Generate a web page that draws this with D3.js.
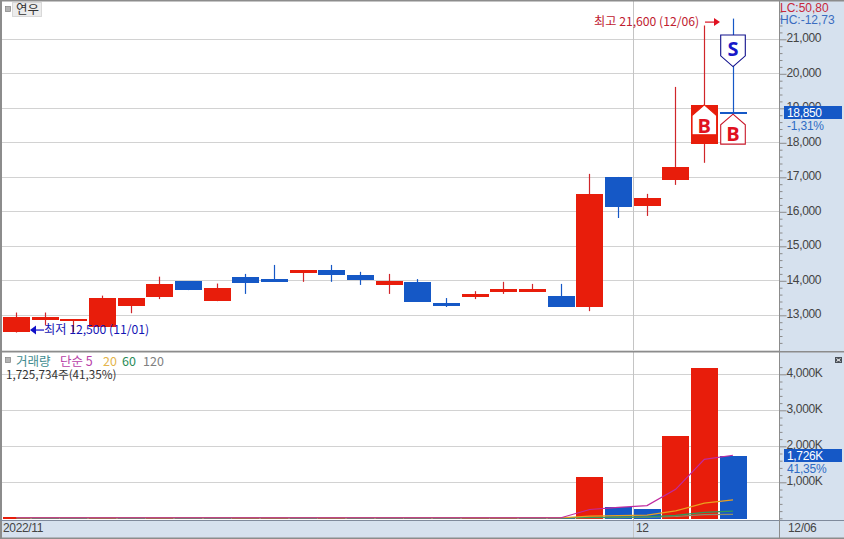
<!DOCTYPE html>
<html><head><meta charset="utf-8">
<script src="https://cdn.jsdelivr.net/npm/d3@7/dist/d3.min.js"></script>
<style>
html,body{margin:0;padding:0;background:#fff;overflow:hidden}
svg{display:block}
text{font-family:"Liberation Sans","Noto Sans CJK KR",sans-serif;font-size:12px}
</style></head><body><svg id="c" width="844" height="539"></svg>
<script>
const opens  = [12520,12870,12840,12660,13280,13530,13990,13410,14110,14050,14230,14310,14170,13880,13970,13360,13530,13680,13680,13560,13240,17010,16170,16920,17970,18900];
const closes = [12950,12940,12890,13500,13500,13910,13730,13790,13940,13970,14310,14170,14020,13990,13390,13270,13620,13760,13760,13240,16520,16140,16400,17300,19100,18850];
const highs  = [13080,13080,12890,13570,13500,14120,13990,13920,14200,14460,14310,14460,14260,14200,14050,13500,13700,13970,13910,13910,17100,17010,16520,19620,21400,21600];
const lows   = [12500,12720,12510,12660,13060,13470,13730,13410,13620,13970,13970,13970,13880,13620,13390,13240,13470,13620,13680,13240,13120,15820,15880,16780,17420,18850];
const volumes = [45,15,14,32,26,32,30,28,30,34,28,32,28,26,14,13,14,15,14,13,1147,314,258,2286,4175,1726];
const ma5   = [15,15,15,15,15,15,15,15,15,15,15,15,15,15,15,15,15,15,15,15,245,304,352,805,1636,1752];
const ma20  = [15,15,15,15,15,15,15,15,15,15,15,15,15,15,15,15,15,15,15,15,60,75,90,205,420,510];
const ma60  = [12,12,12,12,12,12,12,12,12,12,12,12,12,12,12,12,12,12,12,12,25,30,40,80,165,200];
const ma120 = [10,10,10,10,10,10,10,10,10,10,10,10,10,10,10,10,10,10,10,10,15,20,30,50,100,110];
const priceTicks = [13000,14000,15000,16000,17000,18000,19000,20000,21000];
const priceMinor = [12200,12400,12600,12800,13200,13400,13600,13800,14200,14400,14600,14800,15200,15400,15600,15800,16200,16400,16600,16800,17200,17400,17600,17800,18200,18400,18600,18800,19200,19400,19600,19800,20200,20400,20600,20800,21200,21400,21600,21800];
const volTicks = [1000,2000,3000,4000];
const volMinor = [0,200,400,600,800,1200,1400,1600,1800,2200,2400,2600,2800,3200,3400,3600,3800,4200];
const upFlags = closes.map((c,i)=>c>=opens[i]);
const volUp = volumes.map((d,i)=>i===0||d>=volumes[i-1]);

const RED="#e81d0b", BLUE="#1558c6", WICKR="#d0262a", PANEL="#d6e1ee", GRID="#d2d2d2", EDGE="#8c8c8c";
const KR='"Noto Sans CJK KR",sans-serif';
const svg=d3.select("#c");
const x=d3.scaleLinear().domain([0,25]).range([16.5,733]);
const y=d3.scaleLinear().domain([13000,21000]).range([315.3,39.3]);
const v=d3.scaleLinear().domain([0,4000]).range([518.3,374.3]);
const bw=27, R=n=>Math.round(n);
const px=n=>Math.floor(n)+.5;

svg.append("rect").attr("width",844).attr("height",539).attr("fill","#fff");
svg.append("rect").attr("x",779).attr("y",1).attr("width",65).attr("height",538).attr("fill",PANEL);
svg.append("rect").attr("x",0).attr("y",520).attr("width",844).attr("height",19).attr("fill",PANEL);

// grids
svg.append("g").selectAll("line").data(priceTicks).join("line")
 .attr("x1",2).attr("x2",779).attr("y1",d=>px(y(d))).attr("y2",d=>px(y(d))).attr("stroke",GRID);
svg.append("g").selectAll("line").data(volTicks).join("line")
 .attr("x1",2).attr("x2",779).attr("y1",d=>px(v(d))).attr("y2",d=>px(v(d))).attr("stroke",GRID);
svg.append("line").attr("x1",633.5).attr("x2",633.5).attr("y1",1).attr("y2",539).attr("stroke","#c4c4c4");

// candles
const g=svg.append("g");
g.selectAll("line.w").data(d3.range(opens.length)).join("line").attr("class","w")
 .attr("x1",i=>px(x(i))).attr("x2",i=>px(x(i)))
 .attr("y1",i=>y(highs[i])).attr("y2",i=>y(lows[i]))
 .attr("stroke",i=>upFlags[i]?WICKR:BLUE).attr("stroke-width",1.2);
g.selectAll("rect").data(d3.range(opens.length)).join("rect")
 .attr("x",i=>R(x(i)-bw/2)).attr("width",bw)
 .attr("y",i=>R(y(Math.max(opens[i],closes[i]))))
 .attr("height",i=>Math.max(2,R(y(Math.min(opens[i],closes[i])))-R(y(Math.max(opens[i],closes[i])))))
 .attr("fill",i=>upFlags[i]?RED:BLUE);

// signal markers
function house(i,price,dir,depth,off,stroke,label,tcol){
  const cx=x(i), a=y(price), w=12.3, s=dir*10.7, b=dir*depth;
  const pts=[[cx,a],[cx+w,a+s],[cx+w,a+b],[cx-w,a+b],[cx-w,a+s]];
  svg.append("polygon").attr("points",pts.join(" ")).attr("fill","#fff").attr("stroke",stroke).attr("stroke-width",1.1);
  svg.append("text").attr("x",cx).attr("y",a+dir*off).attr("dy","0.36em").attr("text-anchor","middle")
    .attr("fill",tcol).style("font-family",'"Open Sans",sans-serif').style("font-size","20px").style("font-weight",700).text(label);
}
house(24,19100,1,30,21,RED,"B","#e01020");
house(25,18830,1,30,20,"#c8182a","B","#e01020");
house(25,20210,-1,31.5,18,"#10108c","S","#1818c8");

// annotations
const hiY=y(21600)+3, loY=y(12500)-3;
svg.append("text").attr("x",594).attr("y",hiY).attr("dy","0.36em").attr("fill","#c02030").style("font-family",KR).style("font-size","12.2px").text("최고 21,600 (12/06)");
svg.append("line").attr("x1",705).attr("x2",715).attr("y1",hiY+.5).attr("y2",hiY+.5).attr("stroke","#d81020").attr("stroke-width",1.2);
svg.append("path").attr("d",d3.line()([[714,hiY-3.5],[720,hiY+.5],[714,hiY+4.5]])+"Z").attr("fill","#e01020");
svg.append("text").attr("x",44).attr("y",loY).attr("dy","0.36em").attr("fill","#1414b4").style("font-family",KR).style("font-size","12.2px").text("최저 12,500 (11/01)");
svg.append("line").attr("x1",35).attr("x2",44).attr("y1",loY+.5).attr("y2",loY+.5).attr("stroke","#1010c8").attr("stroke-width",1.2);
svg.append("path").attr("d",d3.line()([[36,loY-4],[30,loY+.5],[36,loY+5]])+"Z").attr("fill","#1010c8");

// volume bars
svg.append("g").selectAll("rect").data(volumes).join("rect")
 .attr("x",(d,i)=>R(x(i)-bw/2)).attr("width",bw)
 .attr("y",d=>R(v(d))).attr("height",d=>Math.max(1,R(v(0))-R(v(d))+1))
 .attr("fill",(d,i)=>volUp[i]?RED:BLUE);
// moving averages
const ln=d3.line().x((d,i)=>x(i)).y(d=>v(d));
[[ma120,"#8d8d70"],[ma60,"#2f9a5a"],[ma20,"#eaa020"],[ma5,"#c02aa0"]].forEach(([s,c])=>{
  svg.append("path").attr("d",ln(s)).attr("fill","none").attr("stroke",c).attr("stroke-width",1.2);
});

// panel edges
svg.append("rect").attr("x",0).attr("y",0).attr("width",844).attr("height",1.5).attr("fill",EDGE);
svg.append("rect").attr("x",0).attr("y",0).attr("width",2).attr("height",539).attr("fill",EDGE);
svg.append("rect").attr("x",0).attr("y",537.5).attr("width",844).attr("height",1.5).attr("fill",EDGE);
svg.append("rect").attr("x",2).attr("y",350).attr("width",777).attr("height",1).attr("fill","#dcdcdc");
svg.append("rect").attr("x",2).attr("y",351).attr("width",842).attr("height",1.5).attr("fill",EDGE);
svg.append("rect").attr("x",0).attr("y",520).attr("width",844).attr("height",1).attr("fill","#7f8a9c");
svg.append("rect").attr("x",779).attr("y",0).attr("width",1).attr("height",539).attr("fill",EDGE);

// axes
function axis(scale,ticks,minor,fmt){
  const a=svg.append("g").attr("transform","translate(779.5,0)");
  a.call(d3.axisRight(scale).tickValues(minor).tickSize(3).tickFormat("")).call(s=>s.select(".domain").remove());
  a.selectAll("line").attr("stroke",EDGE);
  const b=svg.append("g").attr("transform","translate(779.5,0)");
  b.call(d3.axisRight(scale).tickValues(ticks).tickSize(7).tickPadding(0).tickFormat(fmt)).call(s=>s.select(".domain").remove());
  b.selectAll("line").attr("stroke",EDGE);
  b.selectAll("text").attr("fill","#444").attr("dy","0.22em").style("font-size","12px").style("font-family",'"Liberation Sans",sans-serif').attr("letter-spacing","-0.35");
}
axis(y,priceTicks,priceMinor,d3.format(","));
axis(v,volTicks,volMinor,d=>d3.format(",")(d)+"K");

// price tags
function tag(cy,label,sub){
  svg.append("rect").attr("x",784).attr("y",cy-6.5).attr("width",58).attr("height",13).attr("fill",BLUE);
  svg.append("text").attr("x",787).attr("y",cy).attr("dy","0.36em").attr("fill","#fff").attr("letter-spacing","-0.35").text(label);
  svg.append("text").attr("x",787).attr("y",cy+13).attr("dy","0.36em").attr("fill","#2f6cc4").attr("letter-spacing","-0.2").text(sub);
}
tag(112.5,"18,850","-1,31%");
tag(455.5,"1,726K","41,35%");
svg.append("text").attr("x",780).attr("y",8).attr("dy","0.36em").attr("fill","#c8283a").text("LC:50,80");
svg.append("text").attr("x",780).attr("y",20).attr("dy","0.36em").attr("fill","#3a6cc0").text("HC:-12,73");

// headers
const icon=(ix,iy)=>svg.append("rect").attr("x",ix).attr("y",iy).attr("width",5).attr("height",5).attr("fill","#b4b4b4").attr("stroke","#808080").attr("stroke-width",.7);
icon(5.5,6.5); icon(5.5,357.5);
svg.append("rect").attr("x",12.5).attr("y",2.5).attr("width",29).attr("height",14).attr("fill","#ececec").attr("stroke","#bbb").attr("stroke-dasharray","1 1");
svg.append("text").attr("x",16).attr("y",9.5).attr("dy","0.36em").attr("fill","#333").style("font-family",KR).style("font-size","12.5px").text("연우");
const legendNames=["거래량","단순 5","20","60","120"], legendX=[16,60,103,122,143], legendCol=["#3f8c90","#b840a8","#e4b44c","#2a8c58","#808080"];
svg.append("g").selectAll("text").data(legendNames).join("text")
 .attr("x",(d,i)=>legendX[i]).attr("y",361).attr("dy","0.36em").attr("fill",(d,i)=>legendCol[i])
 .style("font-family",KR).style("font-size","12.5px").text(d=>d);
svg.append("text").attr("x",6).attr("y",374.5).attr("dy","0.36em").attr("fill","#333").style("font-family",KR).style("font-size","11.7px").text("1,725,734주(41,35%)");

// close icon
svg.append("rect").attr("x",835).attr("y",357).attr("width",7).attr("height",6).attr("fill","#4a5058");
svg.append("path").attr("d","M836.5 358.5l4 3m0-3l-4 3").attr("stroke","#fff").attr("fill","none");

// time labels
const timeLabels=["2022/11","12","12/06"], timeX=[3,636,788];
svg.append("g").selectAll("text").data(timeLabels).join("text")
 .attr("x",(d,i)=>timeX[i]).attr("y",527.5).attr("dy","0.36em").attr("fill","#444").attr("letter-spacing","-0.35").text(d=>d);
</script></body></html>
